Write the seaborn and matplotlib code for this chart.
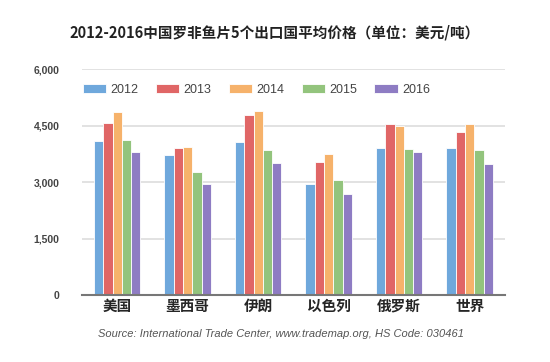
import pandas as pd
import matplotlib
matplotlib.use("Agg")
import matplotlib.pyplot as plt
import seaborn as sns

# --------------------------------------------------
# data (USD / ton)
# --------------------------------------------------
countries = ["美国", "墨西哥", "伊朗", "以色列", "俄罗斯", "世界"]
years = ["2012", "2013", "2014", "2015", "2016"]

p2012 = [4080, 3720, 4060, 2950, 3910, 3910]
p2013 = [4570, 3910, 4770, 3530, 4550, 4330]
p2014 = [4860, 3940, 4890, 3750, 4500, 4550]
p2015 = [4130, 3280, 3860, 3060, 3890, 3860]
p2016 = [3790, 2960, 3520, 2690, 3790, 3480]

yticks = [0, 1500, 3000, 4500, 6000]
colors = ["#6fa8dc", "#e06666", "#f6b26b", "#93c47d", "#8e7cc3"]

rows = []
for yr, vals in zip(years, [p2012, p2013, p2014, p2015, p2016]):
    for c, v in zip(countries, vals):
        rows.append({"country": c, "year": yr, "price": v})
df = pd.DataFrame(rows)

# --------------------------------------------------
# plot
# --------------------------------------------------
sns.set_style("white")
plt.rcParams["font.family"] = ["Noto Sans CJK SC", "DejaVu Sans"]

fig = plt.figure(figsize=(5.5, 3.62), dpi=100)
ax = fig.add_axes([0.149, 0.185, 0.769, 0.624])

sns.barplot(data=df, x="country", y="price", hue="year", palette=colors,
            saturation=1, width=0.66, edgecolor="white", linewidth=0.6,
            ax=ax, zorder=3)

ax.set_ylim(0, 6000)
ax.set_yticks(yticks)
ax.set_yticklabels([f"{t:,}" for t in yticks], fontsize=7.5, fontweight="bold",
                   color="#444444", family=["Liberation Sans", "DejaVu Sans"])
ax.tick_params(axis="y", length=0, pad=16)
ax.tick_params(axis="x", length=0, pad=2, labelsize=10.5)
for lbl in ax.get_xticklabels():
    lbl.set_fontweight("bold")
ax.set_xlabel("")
ax.set_ylabel("")
ax.yaxis.grid(True, color="#dddddd", linewidth=1.2, zorder=0)
for s in ["top", "right", "left"]:
    ax.spines[s].set_visible(False)
ax.spines["bottom"].set_color("#777777")
ax.spines["bottom"].set_linewidth(1.5)
ax.spines["bottom"].set_zorder(4)

leg = ax.legend(loc="upper left", bbox_to_anchor=(-0.025, 0.985), ncol=5,
                frameon=False, handlelength=1.85, handleheight=0.8,
                columnspacing=1.35, handletextpad=0.4,
                prop={"family": ["Liberation Sans"], "size": 9})
for t in leg.get_texts():
    t.set_color("#444444")

fig.text(0.5, 0.91, "2012-2016中国罗非鱼片5个出口国平均价格（单位：美元/吨）",
         ha="center", va="center", fontsize=10.5, fontweight="bold", color="#222222")
fig.text(0.51, 0.077, "Source: International Trade Center, www.trademap.org, HS Code: 030461",
         ha="center", va="center", fontsize=8, style="italic", color="#555555",
         family=["Liberation Sans", "DejaVu Sans"])

fig.savefig("out.png", dpi=100)
